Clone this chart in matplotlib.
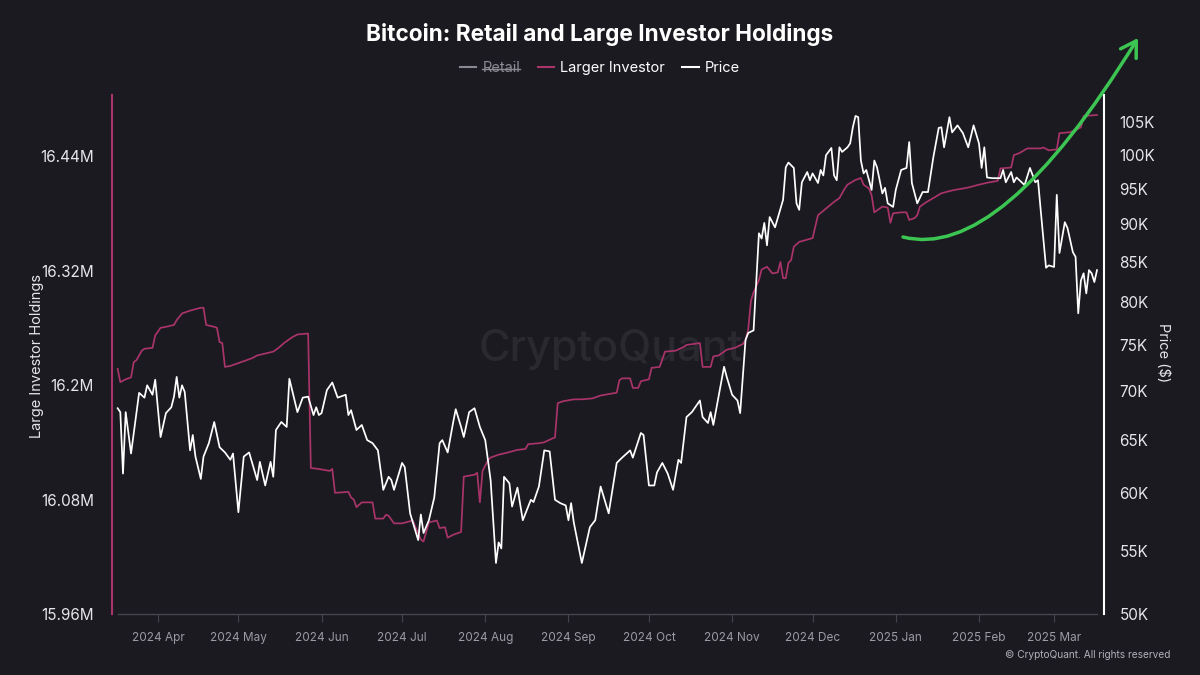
import matplotlib
matplotlib.use('Agg')
import matplotlib.pyplot as plt
import matplotlib.dates as mdates
import matplotlib.ticker as mticker
from matplotlib.lines import Line2D
from matplotlib.patches import FancyArrowPatch
from matplotlib.path import Path
import pandas as pd
import numpy as np

plt.rcParams['font.family'] = ['Inter', 'DejaVu Sans']

# ---------------- data ----------------
start_date = '2024-04-01'

# BTC price (thousand USD), days counted from start_date
price_days = [-15, -14, -13, -12, -10, -7, -5, -4, -2, -1, 1, 3, 5, 6, 7, 8, 9, 10, 12, 13, 14, 16, 17, 19,
              21, 23, 25, 27, 28, 30, 32, 34, 37, 38, 40, 42, 43, 44, 46, 48, 49, 52, 54, 56, 58, 59, 60, 61,
              63, 65, 67, 70, 71, 72, 74, 76, 78, 80, 82, 84, 86, 87, 88, 91, 92, 94, 97, 98, 99, 101, 103,
              105, 106, 108, 110, 111, 113, 114, 116, 118, 120, 122, 124, 126, 127, 128, 129, 131, 132, 134,
              136, 139, 140, 142, 144, 146, 148, 150, 152, 153, 154, 155, 158, 161, 163, 165, 168, 171, 173,
              176, 177, 180, 181, 183, 185, 186, 188, 190, 192, 194, 195, 197, 199, 202, 203, 205, 206, 207,
              211, 212, 214, 216, 217, 219, 220, 222, 224, 225, 226, 227, 228, 230, 233, 234, 235, 237, 238,
              239, 240, 242, 243, 244, 246, 247, 248, 249, 251, 252, 253, 254, 255, 257, 258, 259, 260, 261,
              262, 263, 264, 266, 267, 268, 270, 271, 272, 274, 275, 277, 279, 280, 281, 283, 285, 287, 289,
              291, 292, 293, 295, 296, 298, 300, 302, 304, 306, 307, 308, 309, 311, 314, 315, 316, 318, 319,
              320, 323, 325, 327, 328, 329, 331, 332, 334, 335, 336, 338, 339, 341, 342, 343, 344, 345, 346,
              347, 348, 349, 350]
price_k = [68.2, 67.8, 61.8, 67.8, 63.7, 69.8, 69.3, 70.6, 69.6, 71.2, 65.3, 67.7, 68.3, 69.4, 71.5, 69.3,
           70.6, 69.9, 64.0, 65.5, 63.4, 61.3, 63.4, 64.7, 66.8, 64.3, 63.8, 63.1, 63.7, 58.3, 63.4, 63.8,
           61.2, 62.9, 60.7, 62.9, 61.5, 66.0, 66.8, 66.3, 71.3, 67.8, 69.3, 69.4, 67.5, 68.3, 67.5, 67.7,
           70.1, 70.9, 69.3, 69.6, 67.5, 68.0, 66.0, 66.5, 65.0, 64.7, 64.0, 60.3, 61.5, 61.2, 60.3, 62.8,
           62.4, 58.2, 55.9, 58.1, 56.5, 57.6, 59.6, 64.7, 65.0, 63.8, 66.7, 68.1, 66.3, 65.3, 67.8, 68.2,
           66.3, 65.0, 61.2, 54.0, 55.7, 55.2, 61.5, 60.9, 58.8, 60.5, 57.6, 59.4, 59.2, 60.6, 64.0, 63.9,
           59.4, 59.1, 58.9, 57.6, 59.1, 57.4, 54.0, 57.0, 57.6, 60.6, 58.2, 62.8, 63.3, 64.0, 63.3, 65.7,
           65.5, 60.7, 60.7, 61.9, 62.8, 61.8, 60.3, 63.1, 62.8, 67.3, 67.8, 69.0, 67.3, 66.7, 67.8, 66.5,
           72.6, 71.5, 69.6, 69.0, 67.7, 75.6, 76.4, 76.7, 88.8, 88.1, 90.2, 87.2, 91.0, 89.6, 93.4, 98.1,
           98.8, 98.0, 92.9, 92.0, 95.9, 97.4, 96.2, 97.2, 95.8, 97.7, 96.9, 99.9, 101.0, 96.9, 96.2, 101.1,
           100.4, 101.1, 101.7, 104.2, 106.0, 105.8, 99.1, 97.2, 97.7, 94.8, 99.1, 98.1, 94.3, 95.1, 92.9,
           92.4, 94.8, 97.7, 98.0, 101.9, 95.8, 92.9, 94.5, 94.5, 99.6, 104.1, 104.2, 101.1, 105.8, 103.4,
           104.5, 103.3, 101.1, 104.5, 101.7, 98.0, 101.1, 96.6, 96.5, 96.5, 97.7, 95.9, 97.4, 95.9, 96.6,
           95.5, 98.0, 95.9, 96.2, 92.0, 84.3, 84.6, 84.4, 94.1, 86.2, 90.3, 89.5, 86.3, 85.7, 78.7, 82.7,
           83.6, 81.1, 84.0, 83.6, 82.5, 84.0]

# Large investor holdings (million BTC)
holder_days = [-15, -14, -12, -10, -9, -8, -6, -5, -2, -1, 1, 3, 6, 7, 9, 10, 12, 16, 17, 18, 21, 22, 23, 24,
               25, 27, 31, 35, 37, 43, 45, 47, 48, 50, 52, 56, 57, 60, 64, 65, 66, 71, 72, 73, 74, 76, 80, 81,
               84, 85, 86, 88, 91, 95, 96, 98, 99, 101, 104, 105, 107, 108, 110, 113, 114, 118, 119, 120, 121,
               123, 124, 127, 130, 134, 137, 138, 142, 144, 147, 148, 149, 151, 155, 158, 162, 165, 167, 171,
               172, 173, 176, 177, 179, 180, 183, 184, 187, 189, 193, 196, 197, 202, 203, 206, 207, 209, 212,
               215, 218, 219, 220, 221, 222, 224, 225, 227, 229, 231, 232, 233, 234, 235, 236, 237, 239, 244,
               245, 246, 249, 252, 254, 256, 257, 260, 262, 263, 265, 266, 267, 268, 270, 272, 273, 274, 277,
               279, 280, 282, 283, 284, 286, 289, 292, 296, 302, 306, 309, 313, 314, 318, 319, 321, 324, 329,
               330, 332, 335, 336, 340, 344, 345, 350]
holder_m = [16.217, 16.203, 16.206, 16.208, 16.224, 16.226, 16.236, 16.238, 16.239, 16.252, 16.260, 16.261,
            16.263, 16.268, 16.275, 16.276, 16.278, 16.281, 16.281, 16.263, 16.261, 16.260, 16.245, 16.244,
            16.219, 16.220, 16.224, 16.228, 16.231, 16.235, 16.239, 16.244, 16.246, 16.250, 16.253, 16.254,
            16.113, 16.112, 16.110, 16.112, 16.087, 16.088, 16.082, 16.080, 16.072, 16.077, 16.077, 16.060,
            16.060, 16.064, 16.063, 16.055, 16.055, 16.058, 16.051, 16.038, 16.036, 16.056, 16.058, 16.050,
            16.051, 16.040, 16.043, 16.046, 16.104, 16.106, 16.108, 16.077, 16.110, 16.121, 16.124, 16.127,
            16.129, 16.132, 16.133, 16.138, 16.139, 16.140, 16.144, 16.145, 16.181, 16.183, 16.185, 16.185,
            16.186, 16.189, 16.190, 16.192, 16.205, 16.207, 16.207, 16.197, 16.197, 16.204, 16.206, 16.218,
            16.219, 16.235, 16.236, 16.240, 16.242, 16.244, 16.219, 16.219, 16.230, 16.231, 16.237, 16.239,
            16.243, 16.247, 16.258, 16.288, 16.297, 16.310, 16.321, 16.324, 16.317, 16.318, 16.329, 16.312,
            16.312, 16.328, 16.331, 16.345, 16.350, 16.354, 16.366, 16.378, 16.385, 16.392, 16.396, 16.406,
            16.410, 16.415, 16.417, 16.410, 16.406, 16.399, 16.381, 16.383, 16.387, 16.386, 16.370, 16.380,
            16.381, 16.381, 16.373, 16.375, 16.378, 16.387, 16.391, 16.396, 16.401, 16.404, 16.407, 16.410,
            16.412, 16.414, 16.427, 16.428, 16.441, 16.443, 16.448, 16.448, 16.449, 16.446, 16.447, 16.464,
            16.465, 16.470, 16.482, 16.483]

left_ticks_m = [15.96, 16.08, 16.2, 16.32, 16.44]
price_ticks_k = [50, 55, 60, 65, 70, 75, 80, 85, 90, 95, 100, 105]
legend_labels = ['Retail', 'Larger Investor', 'Price']
title = 'Bitcoin: Retail and Large Investor Holdings'

# ---------------- style ----------------
BG = '#1b1a20'
MAG = '#a8346a'
RETAIL = '#8b8a94'
GRID_GRAY = '#45444c'
TICK_GRAY = '#9c9ba3'

start = pd.Timestamp(start_date)
price_dates = start + pd.to_timedelta(price_days, unit='D')
holder_dates = start + pd.to_timedelta(holder_days, unit='D')

W, H = 1200, 675
fig = plt.figure(figsize=(12, 6.75), dpi=100, facecolor=BG)
ax = fig.add_axes([112 / W, 1 - 614 / H, (1104 - 112) / W, (614 - 95) / H])
ax.set_facecolor(BG)

# watermark
ax.text(611 / W, 1 - 350 / H, 'CryptoQuant', transform=fig.transFigure, ha='center', va='center',
        fontsize=31, color='#2a2930', fontweight='medium', zorder=0)

ax.plot(holder_dates, np.array(holder_m) * 1e6, color=MAG, lw=1.25, zorder=2)
ax.set_ylim(15.96e6, 16.504e6)
ax.set_yticks([v * 1e6 for v in left_ticks_m])
ax.yaxis.set_major_formatter(mticker.FuncFormatter(lambda v, p: f"{v / 1e6:g}M"))
ax.tick_params(axis='y', length=0, pad=13, labelsize=11, labelcolor='#e6e6ea')

xmin = mdates.date2num(price_dates[0] - pd.Timedelta(days=2.1))
xmax = mdates.date2num(price_dates[-1] + pd.Timedelta(days=2.6))
ax.set_xlim(xmin, xmax)
ax.xaxis.set_major_locator(mdates.MonthLocator())
ax.xaxis.set_major_formatter(mdates.DateFormatter('%Y %b'))
ax.tick_params(axis='x', length=6, color=GRID_GRAY, pad=7, labelsize=8.5, labelcolor=TICK_GRAY)

for s in ['top', 'right']:
    ax.spines[s].set_visible(False)
ax.spines['left'].set_color(MAG)
ax.spines['left'].set_linewidth(1.5)
ax.spines['bottom'].set_color(GRID_GRAY)
ax.spines['bottom'].set_linewidth(1.0)
ax.spines['bottom'].set_bounds(mdates.date2num(price_dates[0]), mdates.date2num(price_dates[-1]))

ax2 = ax.twinx()
ax2.plot(price_dates, np.array(price_k) * 1000, color='white', lw=1.25, zorder=3)
ax2.set_yscale('log')
ax2.set_ylim(50000, 109400)
ax2.yaxis.set_major_locator(mticker.FixedLocator([v * 1000 for v in price_ticks_k]))
ax2.yaxis.set_minor_locator(mticker.NullLocator())
ax2.yaxis.set_major_formatter(mticker.FuncFormatter(lambda v, p: f"{v / 1000:g}K"))
ax2.tick_params(axis='y', length=0, pad=11, labelsize=11, labelcolor='#e6e6ea')
for s in ['top', 'left', 'bottom']:
    ax2.spines[s].set_visible(False)
ax2.spines['right'].set_color('white')
ax2.spines['right'].set_linewidth(1.5)
ax2.set_xlim(xmin, xmax)

# axis titles
fig.text(37 / W, 1 - 356 / H, 'Large Investor Holdings', rotation=90, ha='center', va='center',
         fontsize=10.5, color='#e6e6ea')
fig.text(1163 / W, 1 - 353 / H, 'Price ($)', rotation=270, ha='center', va='center',
         fontsize=10.5, color='#e6e6ea')

# title
fig.text(0.5, 1 - 35 / H, title, ha='center', va='center', fontsize=16.3, fontweight='bold', color='white')

# legend
handles = [Line2D([], [], color=RETAIL, lw=1.5), Line2D([], [], color=MAG, lw=1.5),
           Line2D([], [], color='white', lw=1.5)]
leg = fig.legend(handles, legend_labels, loc='center', bbox_to_anchor=(0.5, 1 - 68 / H), ncol=3,
                 frameon=False, fontsize=10.5, handlelength=1.1, handletextpad=0.45, columnspacing=1.2)
texts = leg.get_texts()
texts[0].set_color(RETAIL)
for t in texts[1:]:
    t.set_color('white')

# footer
fig.text(1170 / W, 1 - 655 / H, '\u00a9 CryptoQuant. All rights reserved', ha='right', va='center',
         fontsize=7.3, color='#b0b0b8')

# green arrow annotation (figure pixels converted to figure fraction)
pts = [(903, 237), (1000, 262), (1138, 38)]
verts = [(x / W, 1 - y / H) for x, y in pts]
arrow_path = Path(verts, [Path.MOVETO, Path.CURVE3, Path.CURVE3])
arr = FancyArrowPatch(path=arrow_path, arrowstyle='->,head_length=0.9,head_width=0.55',
                      mutation_scale=12, color='#3cc552', lw=2.5, transform=fig.transFigure, zorder=6)
fig.add_artist(arr)

# strike-through on hidden "Retail" legend entry
fig.canvas.draw()
renderer = fig.canvas.get_renderer()
bb = texts[0].get_window_extent(renderer).transformed(fig.transFigure.inverted())
ymid = bb.y0 + bb.height * 0.45
fig.add_artist(Line2D([bb.x0, bb.x1], [ymid, ymid], color=RETAIL, lw=1.0, transform=fig.transFigure))

fig.savefig('out.png', dpi=100, facecolor=BG)
